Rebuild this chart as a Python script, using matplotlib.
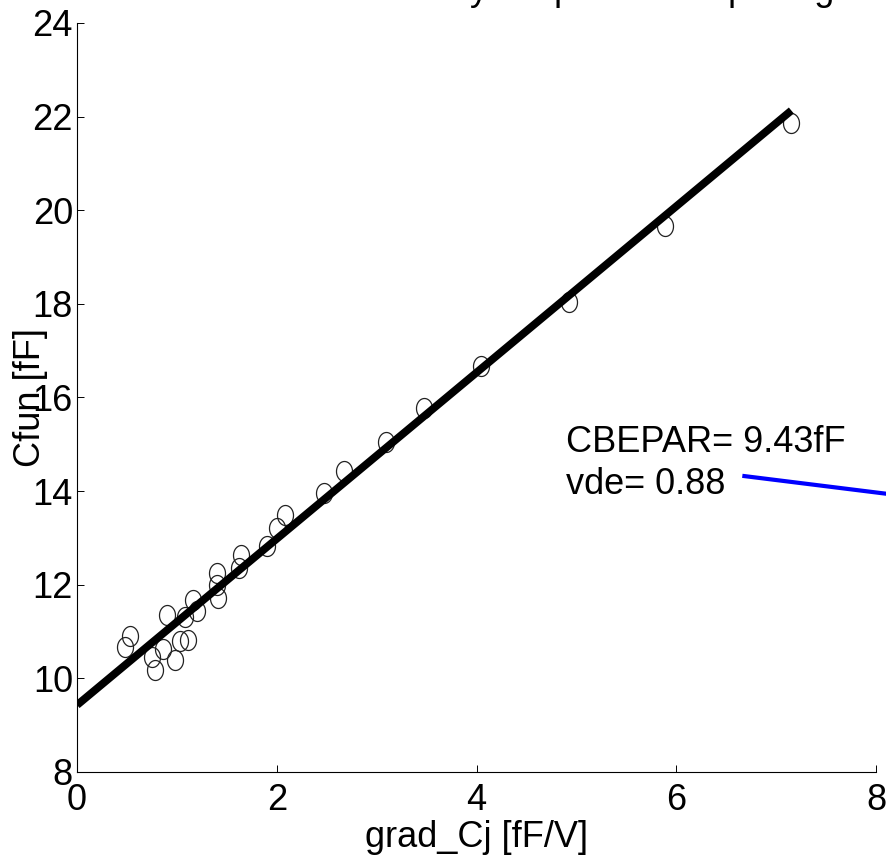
import matplotlib
matplotlib.use("Agg")
import matplotlib.pyplot as plt
import numpy as np
from matplotlib.path import Path

plt.rcParams['font.family'] = ['Liberation Sans', 'DejaVu Sans']

# measured points
grad_cj = [0.48, 0.53, 0.90, 0.75, 0.86, 0.78, 0.98, 1.03, 1.11, 1.08,
           1.16, 1.20, 1.40, 1.41, 1.40, 1.62, 1.64, 1.90, 2.00, 2.08,
           2.47, 2.67, 3.09, 3.47, 4.04, 4.92, 5.89, 7.15]
cfun = [10.68, 10.90, 11.35, 10.46, 10.63, 10.18, 10.39, 10.80, 10.82, 11.31,
        11.68, 11.44, 12.00, 11.72, 12.25, 12.36, 12.64, 12.83, 13.21, 13.49,
        13.96, 14.43, 15.05, 15.78, 16.67, 18.04, 19.67, 21.87]

# fit result
cbepar = 9.43
vde = 0.88
slope = 1.776

# second curve (only its start is inside the plot)
blue_x = [6.68, 8.3]
blue_y = [14.32, 13.89]

xticks = [0, 2, 4, 6, 8]
yticks = [8, 10, 12, 14, 16, 18, 20, 22, 24]

# slightly tall open circle like the matlab marker
t = np.linspace(0, 2 * np.pi, 60)
ellipse = Path(np.column_stack([0.8 * np.cos(t), np.sin(t)]), closed=True)

fig = plt.figure(figsize=(8.86, 8.67), dpi=100)
ax = fig.add_axes([0.087, 0.1096, 0.902, 0.864])

ax.plot(grad_cj, cfun, linestyle='none', marker=ellipse, markersize=14.4,
        markerfacecolor='none', markeredgecolor='#222222', markeredgewidth=0.9)

fit_x = np.array([0, max(grad_cj)])
ax.plot(fit_x, cbepar + slope * fit_x, color='black', linewidth=5.6,
        solid_capstyle='butt')

ax.plot(blue_x, blue_y, color='#0000ff', linewidth=3, clip_on=False)

ax.text(4.89, 15.03, 'CBEPAR= %.2ffF' % cbepar, fontsize=26, va='center')
ax.text(4.89, 14.15, 'vde= %.2f' % vde, fontsize=26, va='center')

ax.set_xlim(0, 8)
ax.set_ylim(8, 24)
ax.set_xticks(xticks)
ax.set_yticks(yticks)
ax.tick_params(direction='in', length=5, width=0.7, labelsize=26)
ax.tick_params(axis='x', pad=8)
ax.tick_params(axis='y', pad=3)

ax.spines['top'].set_visible(False)
ax.spines['right'].set_visible(False)
ax.spines['left'].set_linewidth(0.8)
ax.spines['bottom'].set_linewidth(0.8)

ax.set_xlabel('grad_Cj [fF/V]', fontsize=26)
ax.set_ylabel('Cfun [fF]', fontsize=26)
ax.xaxis.set_label_coords(0.5, -0.064)
ax.yaxis.set_label_coords(-0.036, 0.5)

# title sits mostly above the visible area
fig.text(0.537, 1.0, 'Cfun fit for CBEPAR by simple linear spacing',
         fontsize=26, ha='center', va='baseline')

fig.savefig('out.png', dpi=100)
